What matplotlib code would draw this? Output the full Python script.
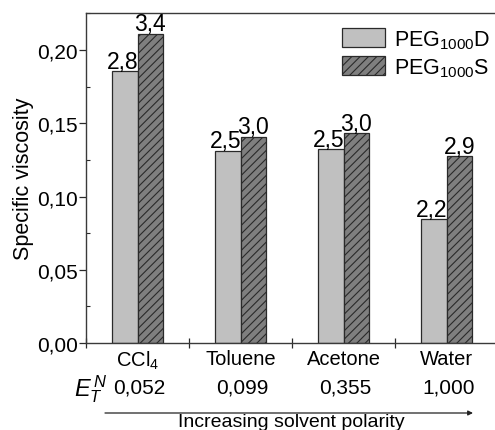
import numpy as np
import matplotlib
matplotlib.use("Agg")
import matplotlib.pyplot as plt
from matplotlib.ticker import MultipleLocator, FixedLocator

plt.rcParams['font.family'] = ['Liberation Sans', 'DejaVu Sans']
plt.rcParams['mathtext.fontset'] = 'custom'
plt.rcParams['mathtext.rm'] = 'Liberation Sans'
plt.rcParams['mathtext.it'] = 'Liberation Sans:italic'
plt.rcParams['hatch.linewidth'] = 0.8

# Specific viscosity per solvent
solvents = ['CCl$_4$', 'Toluene', 'Acetone', 'Water']
et_n = ['0,052', '0,099', '0,355', '1,000']
visc_d = [0.1855, 0.1313, 0.1324, 0.0846]
visc_s = [0.2110, 0.1408, 0.1433, 0.1276]
labels_d = ['2,8', '2,5', '2,5', '2,2']
labels_s = ['3,4', '3,0', '3,0', '2,9']
series_names = ['PEG$_{1000}$D', 'PEG$_{1000}$S']

fig = plt.figure(figsize=(4.95, 4.31), dpi=100)
ax = fig.add_axes([86 / 495, 87 / 431, 411 / 495, 330 / 431])

x = np.arange(len(solvents))
w = 0.25
edge = '#2a2a2a'
bars_d = ax.bar(x - w / 2, visc_d, w, color='#c0c0c0', edgecolor=edge,
                linewidth=0.9, label=series_names[0])
bars_s = ax.bar(x + w / 2, visc_s, w, color='#7f7f7f', edgecolor=edge,
                linewidth=0.9, hatch='////', label=series_names[1])

for b, t in zip(bars_d, labels_d):
    ax.text(b.get_x() + b.get_width() / 2 - 0.02, b.get_height() - 0.001, t,
            ha='center', va='bottom', fontsize=16.5)
for b, t in zip(bars_s, labels_s):
    ax.text(b.get_x() + b.get_width() / 2, b.get_height() - 0.001, t,
            ha='center', va='bottom', fontsize=16.5)

ax.set_xlim(-0.5, 3.49)
ax.set_ylim(0, 0.2253)

ax.yaxis.set_major_locator(MultipleLocator(0.05))
ax.yaxis.set_minor_locator(MultipleLocator(0.025))
ax.set_yticklabels([f'{v:.2f}'.replace('.', ',') for v in ax.get_yticks()])
ax.tick_params(axis='y', which='major', direction='out', length=5,
               width=0.9, labelsize=15, pad=1, color=edge)
ax.tick_params(axis='y', which='minor', direction='in', length=3,
               width=0.8, color=edge)

ax.set_xticks(x)
ax.set_xticklabels(solvents)
ax.xaxis.set_minor_locator(FixedLocator([-0.5, 0.5, 1.5, 2.5]))
ax.tick_params(axis='x', which='major', length=0, labelsize=14.5, pad=4)
ax.tick_params(axis='x', which='minor', direction='inout', length=7,
               width=0.9, color=edge)

for side in ['left', 'bottom', 'top']:
    ax.spines[side].set_color('#3a3a3a')
    ax.spines[side].set_linewidth(1.0)
ax.spines['right'].set_visible(False)

ax.set_ylabel('Specific viscosity', fontsize=15.5, labelpad=2)

# E_T^N row under the solvent names
trans = ax.get_xaxis_transform()
for xi, v in zip(x, et_n):
    ax.text(xi + 0.02, -0.132, v, transform=trans, ha='center', va='center',
            fontsize=15)
ax.text(-0.45, -0.137, '$E_T^{\\,N}$', transform=trans, ha='center',
        va='center', fontsize=17)

# polarity arrow
ax.annotate('', xy=(473 / 495, 17 / 431), xytext=(105 / 495, 17 / 431),
            xycoords='figure fraction', textcoords='figure fraction',
            arrowprops=dict(arrowstyle='-|>', color='#222222', lw=0.9,
                            mutation_scale=7, shrinkA=0, shrinkB=0))
fig.text(291 / 495, 0, 'Increasing solvent polarity', ha='center',
         va='bottom', fontsize=14)

ax.legend(loc='upper right', frameon=False, fontsize=15.5,
          handlelength=2.0, handleheight=1.0, handletextpad=0.4,
          labelspacing=0.25, borderaxespad=0.3, bbox_to_anchor=(1.02, 1.0))

fig.savefig('out.png', dpi=100)
